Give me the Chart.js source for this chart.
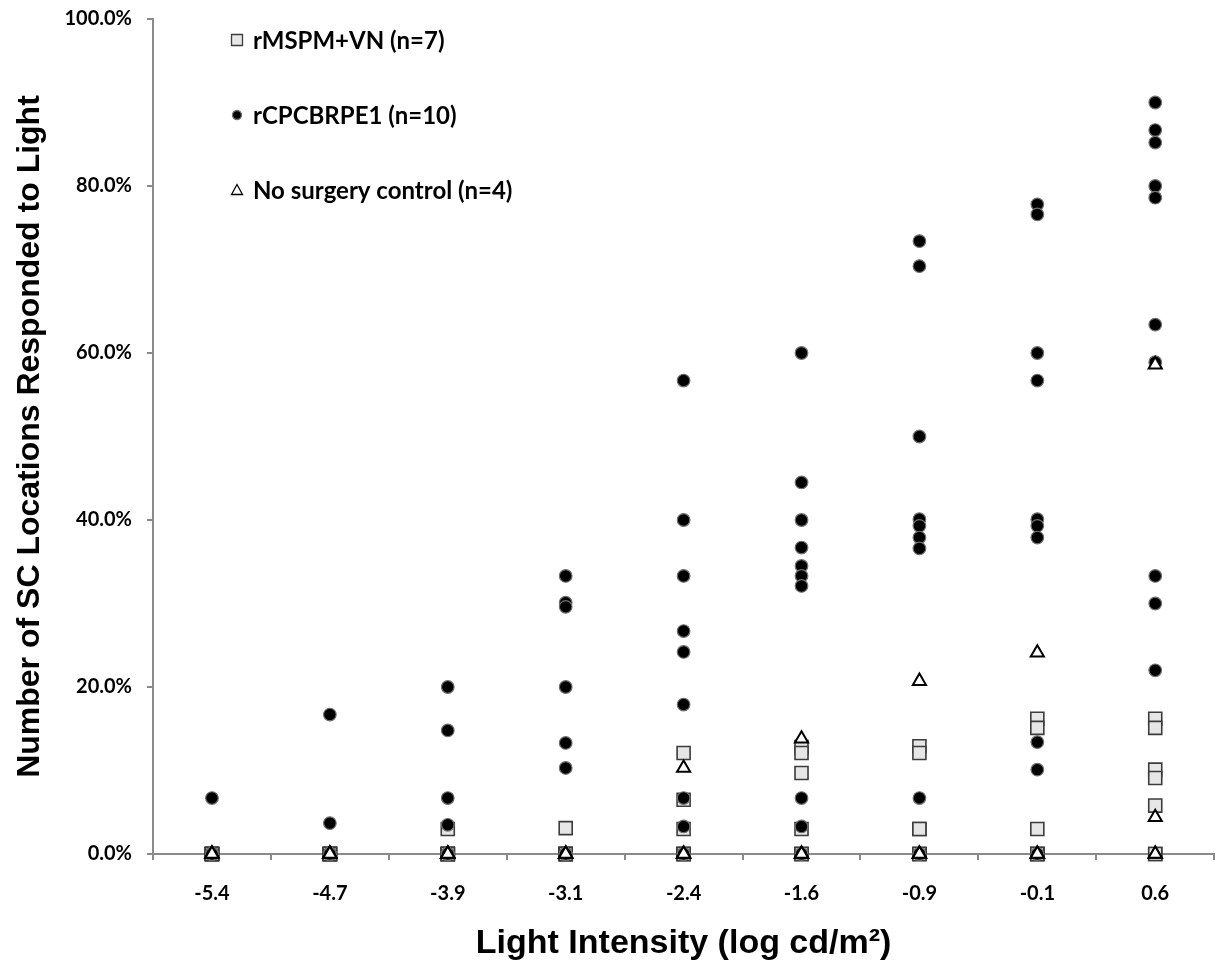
<!DOCTYPE html>
<html>
<head>
<meta charset="utf-8">
<script src="https://cdn.jsdelivr.net/npm/chart.js@4.4.1/dist/chart.umd.min.js"></script>
<style>
  html, body { margin: 0; padding: 0; overflow: hidden; background: #fff; }
  #wrap { width: 1225px; height: 967px; }
</style>
</head>
<body>
<div id="wrap"><canvas id="myChart"></canvas></div>
<script>
const intensities = ["-5.4", "-4.7", "-3.9", "-3.1", "-2.4", "-1.6", "-0.9", "-0.1", "0.6"];

// one inner list per light intensity (% of SC locations)
const mspmValues = [
  [0, 0, 0, 0, 0, 0, 0],
  [0, 0, 0, 0, 0, 0, 0],
  [3.0, 0, 0, 0, 0, 0, 0],
  [3.1, 0, 0, 0, 0, 0, 0],
  [12.1, 6.5, 3.0, 0, 0, 0, 0],
  [12.8, 12.1, 9.7, 3.0, 0, 0, 0],
  [12.9, 12.1, 3.0, 3.0, 0, 0, 0],
  [16.2, 15.1, 3.0, 0, 0, 0, 0],
  [16.2, 15.1, 10.1, 9.1, 5.8, 0, 0],
];
const cpcValues = [
  [6.7, 0, 0, 0, 0, 0, 0, 0, 0, 0],
  [16.7, 3.7, 0, 0, 0, 0, 0, 0, 0, 0],
  [20.0, 14.8, 6.7, 3.5, 0, 0, 0, 0, 0, 0],
  [33.3, 30.1, 29.6, 20.0, 13.3, 10.3, 0, 0, 0, 0],
  [56.7, 40.0, 33.3, 26.7, 24.2, 17.9, 6.7, 3.3, 0, 0],
  [60.0, 44.5, 40.0, 36.7, 34.5, 33.3, 32.1, 6.7, 3.3, 0],
  [73.4, 70.4, 50.0, 40.1, 39.3, 37.9, 36.6, 6.7, 0, 0],
  [77.8, 76.6, 60.0, 56.7, 40.1, 39.3, 37.9, 13.4, 10.1, 0],
  [90.0, 86.7, 85.2, 80.0, 78.6, 63.4, 58.9, 33.3, 30.0, 22.0],
];
const controlValues = [
  [0, 0, 0, 0],
  [0, 0, 0, 0],
  [0, 0, 0, 0],
  [0, 0, 0, 0],
  [10.3, 0, 0, 0],
  [13.8, 0, 0, 0],
  [20.7, 0, 0, 0],
  [24.1, 0, 0, 0],
  [58.6, 4.4, 0, 0],
];
const yTicks = [0, 20, 40, 60, 80, 100];

const toPoints = (rows) =>
  rows.flatMap((vals, i) => vals.map((v) => ({ x: intensities[i], y: v })));

const axisGray = "#8a8a8a";

// legend sits inside the plot, top left, like the original
const insideLegend = {
  id: "insideLegend",
  afterDraw(chart) {
    const ctx = chart.ctx;
    const area = chart.chartArea;
    ctx.save();
    chart.data.datasets.forEach((ds, i) => {
      const mx = area.left + 84;
      const my = area.top + 21 + i * 75;
      ctx.lineWidth = 1.3;
      ctx.fillStyle = ds.backgroundColor;
      ctx.strokeStyle = ds.borderColor;
      ctx.beginPath();
      if (ds.pointStyle === "rect") {
        ctx.rect(mx - 5.5, my - 5.5, 11, 11);
      } else if (ds.pointStyle === "circle") {
        ctx.arc(mx, my, 4.5, 0, Math.PI * 2);
      } else {
        ctx.moveTo(mx, my - 5.5);
        ctx.lineTo(mx + 5.5, my + 4.5);
        ctx.lineTo(mx - 5.5, my + 4.5);
        ctx.closePath();
      }
      ctx.fill();
      ctx.stroke();
      ctx.fillStyle = "#000";
      ctx.font = "bold 24px Lato";
      ctx.textBaseline = "middle";
      ctx.fillText(ds.label, mx + 16, my + 1);
    });
    ctx.restore();
  },
};

const ctx = document.getElementById("myChart").getContext("2d");
const myChart = new Chart(ctx, {
  type: "scatter",
  data: {
    labels: intensities,
    datasets: [
      {
        label: "rMSPM+VN (n=7)",
        data: toPoints(mspmValues),
        pointStyle: "rect",
        pointRadius: 9.2,
        backgroundColor: "#e6e6e6",
        borderColor: "#3c3c3c",
        borderWidth: 1.6,
        clip: false,
        order: 3,
      },
      {
        label: "rCPCBRPE1 (n=10)",
        data: toPoints(cpcValues),
        pointStyle: "circle",
        pointRadius: 6.3,
        backgroundColor: "#000",
        borderColor: "#707070",
        borderWidth: 1.2,
        clip: false,
        order: 2,
      },
      {
        label: "No surgery control (n=4)",
        data: toPoints(controlValues),
        pointStyle: "triangle",
        pointRadius: 7.6,
        backgroundColor: "#fff",
        borderColor: "#000",
        borderWidth: 2,
        clip: false,
        order: 1,
      },
    ],
  },
  options: {
    responsive: true,
    maintainAspectRatio: false,
    animation: false,
    events: [],
    layout: { padding: { top: 19, right: 0, left: 0, bottom: 0 } },
    plugins: {
      legend: { display: false },
      tooltip: { enabled: false },
    },
    scales: {
      x: {
        type: "category",
        offset: true,
        afterFit: (scale) => {
          scale.height = 113;
          scale.paddingLeft = 0;
          scale.paddingRight = 0;
        },
        grid: { offset: true, drawOnChartArea: false, tickLength: 6, color: axisGray, lineWidth: 2 },
        border: { color: axisGray, width: 2 },
        ticks: { color: "#000", padding: 22, font: { family: "Lato", weight: "bold", size: 20 } },
        title: {
          display: true,
          text: "Light Intensity (log cd/m²)",
          color: "#000",
          padding: { bottom: 3 },
          font: { family: "Liberation Sans", weight: "bold", size: 34 },
        },
      },
      y: {
        min: 0,
        max: 100,
        afterFit: (scale) => {
          scale.width = 153;
          scale.paddingTop = 0;
          scale.paddingBottom = 0;
        },
        afterBuildTicks: (scale) => {
          scale.ticks = yTicks.map((v) => ({ value: v }));
        },
        grid: { drawOnChartArea: false, tickLength: 6, color: axisGray, lineWidth: 2 },
        border: { color: axisGray, width: 2 },
        ticks: {
          color: "#000",
          padding: 15,
          font: { family: "Lato", weight: "bold", size: 20 },
          callback: (v) => v.toFixed(1) + "%",
        },
        title: {
          display: true,
          text: "Number of SC Locations Responded to Light",
          color: "#000",
          padding: { top: 11 },
          font: { family: "Liberation Sans", weight: "bold", size: 32 },
        },
      },
    },
  },
  plugins: [insideLegend],
});
</script>
</body>
</html>
